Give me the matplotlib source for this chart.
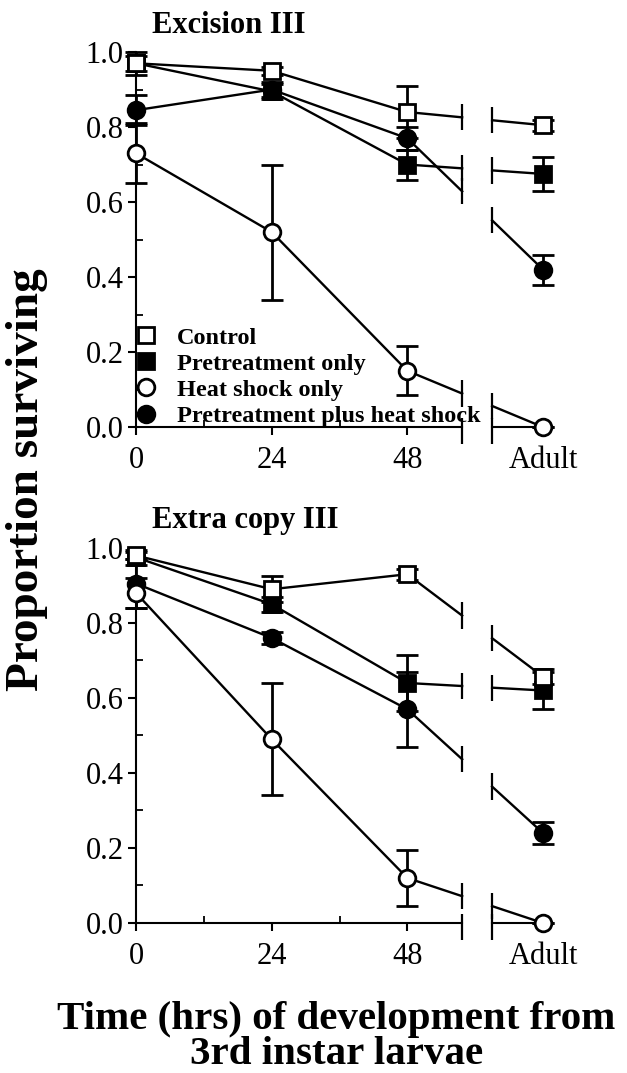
import numpy as np
import matplotlib.pyplot as plt
from matplotlib.ticker import FixedLocator, MultipleLocator

plt.rcParams['font.family'] = ['Liberation Serif', 'DejaVu Serif']

# sampling times (hrs); adult stage is placed after a break in the axis
hours = [0, 24, 48, 72]
hour_labels = ['0', '24', '48', 'Adult']
series_names = ['Control', 'Pretreatment only', 'Heat shock only',
                'Pretreatment plus heat shock']

# Excision III
exc_control = [0.97, 0.95, 0.84, 0.805]
exc_control_err = [0.03, 0.01, 0.07, 0.015]
exc_pre = [0.97, 0.895, 0.70, 0.675]
exc_pre_err = [0.02, 0.02, 0.04, 0.045]
exc_heat = [0.73, 0.52, 0.15, 0.0]
exc_heat_err = [0.08, 0.18, 0.065, 0.0]
exc_preheat = [0.845, 0.90, 0.77, 0.42]
exc_preheat_err = [0.04, 0.02, 0.03, 0.04]

# Extra copy III
ext_control = [0.98, 0.89, 0.93, 0.657]
ext_control_err = [0.01, 0.035, 0.015, 0.02]
ext_pre = [0.975, 0.85, 0.64, 0.62]
ext_pre_err = [0.02, 0.02, 0.075, 0.05]
ext_heat = [0.88, 0.49, 0.12, 0.0]
ext_heat_err = [0.04, 0.15, 0.075, 0.0]
ext_preheat = [0.905, 0.76, 0.57, 0.24]
ext_preheat_err = [0.065, 0.015, 0.10, 0.03]

BREAK_L, BREAK_R = 57.7, 63.0
MARK_H = 0.035

# marker style per series (same order as series_names)
STYLES = [
    dict(marker='s', mfc='white', ms=11),
    dict(marker='s', mfc='black', ms=11),
    dict(marker='o', mfc='white', ms=12),
    dict(marker='o', mfc='black', ms=12),
]
DRAW_ORDER = [1, 3, 2, 0]


def draw_panel(ax, title, values, errors, legend=False):
    x = np.array(hours, dtype=float)
    handles = {}
    for k, i in enumerate(DRAW_ORDER):
        y = np.array(values[i], dtype=float)
        z = 3 + k
        ax.errorbar(x, y, yerr=errors[i], fmt='none', ecolor='black',
                    elinewidth=2.0, capsize=8, capthick=2.0,
                    clip_on=False, zorder=z)
        yb1 = np.interp(BREAK_L, x, y)
        yb2 = np.interp(BREAK_R, x, y)
        ax.plot(np.r_[x[:3], BREAK_L], np.r_[y[:3], yb1], color='black',
                lw=1.7, clip_on=False, zorder=z)
        ax.plot([BREAK_R, x[3]], [yb2, y[3]], color='black', lw=1.7,
                clip_on=False, zorder=z)
        ax.vlines([BREAK_L, BREAK_R], [yb1 - MARK_H, yb2 - MARK_H],
                  [yb1 + MARK_H, yb2 + MARK_H], color='black', lw=1.6,
                  clip_on=False, zorder=z)
        st = STYLES[i]
        h, = ax.plot(x, y, ls='none', marker=st['marker'], ms=st['ms'],
                     mfc=st['mfc'], mec='black', mew=2.0,
                     clip_on=False, zorder=z + 0.5, label=series_names[i])
        handles[i] = h

    # broken x axis
    ax.spines[['top', 'right', 'bottom']].set_visible(False)
    ax.spines['left'].set_linewidth(1.5)
    ax.plot([0, BREAK_L], [0, 0], color='black', lw=1.5, clip_on=False)
    ax.plot([BREAK_R, hours[-1]], [0, 0], color='black', lw=1.5,
            clip_on=False)
    ax.vlines([BREAK_L, BREAK_R], -0.045, 0.025, color='black', lw=1.6,
              clip_on=False)

    ax.set_xlim(0, 74)
    ax.set_ylim(0, 1.0)
    ax.xaxis.set_major_locator(FixedLocator(hours))
    ax.set_xticklabels(hour_labels)
    ax.xaxis.set_minor_locator(FixedLocator([12, 36]))
    ax.yaxis.set_major_locator(MultipleLocator(0.2))
    ax.yaxis.set_minor_locator(MultipleLocator(0.1))
    ax.yaxis.set_major_formatter(lambda v, p: f'{v:.1f}')
    ax.tick_params(which='major', direction='out', length=6, width=1.5,
                   labelsize=22)
    ax.tick_params(axis='x', which='major', pad=8)
    ax.tick_params(axis='y', which='major', pad=3)
    ax.tick_params(which='minor', direction='in', length=5, width=1.3)

    ax.text(0.038, 1.052, title, transform=ax.transAxes, fontsize=22,
            fontweight='bold', va='baseline', ha='left')

    if legend:
        ax.legend([handles[i] for i in range(4)], series_names,
                  loc='lower left', bbox_to_anchor=(-0.005, 0.0),
                  frameon=False, handlelength=1.0, handletextpad=0.75,
                  labelspacing=0.17, borderpad=0, borderaxespad=0,
                  prop=dict(weight='bold', size=17.5))


fig = plt.figure(figsize=(6.27, 10.73), dpi=100)
ax_top = fig.add_axes([0.217, 0.602, 0.667, 0.3495])
ax_bot = fig.add_axes([0.217, 0.1398, 0.667, 0.3495])

draw_panel(ax_top, 'Excision III',
           [exc_control, exc_pre, exc_heat, exc_preheat],
           [exc_control_err, exc_pre_err, exc_heat_err, exc_preheat_err],
           legend=True)
draw_panel(ax_bot, 'Extra copy III',
           [ext_control, ext_pre, ext_heat, ext_preheat],
           [ext_control_err, ext_pre_err, ext_heat_err, ext_preheat_err])

fig.text(0.043, 0.553, 'Proportion surviving', rotation=90, ha='center',
         va='center', fontsize=34, fontweight='bold')
fig.text(0.536, 0.0, 'Time (hrs) of development from\n3rd instar larvae',
         ha='center', va='bottom', fontsize=29.5, fontweight='bold',
         linespacing=0.92)

fig.savefig('out.png', dpi=100)
